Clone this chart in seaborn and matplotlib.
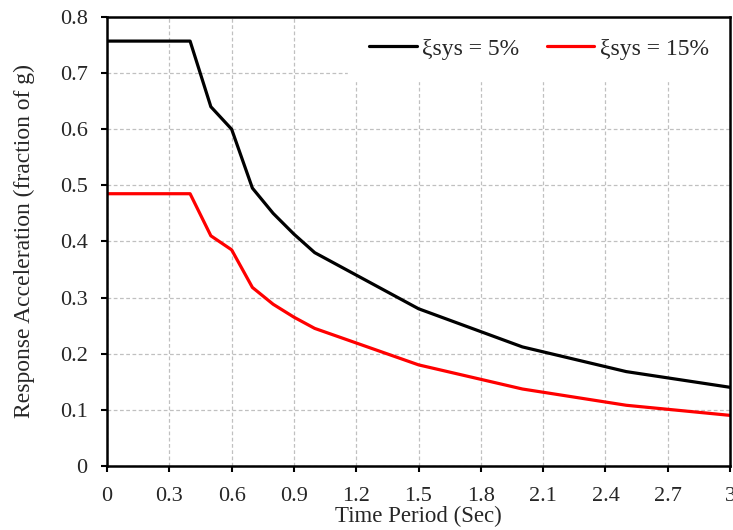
import numpy as np
import pandas as pd
import matplotlib
matplotlib.use("Agg")
import matplotlib.pyplot as plt
import seaborn as sns

### Dados do espectro de resposta
periodo = [0.0, 0.1, 0.2, 0.3, 0.4, 0.5, 0.6, 0.7, 0.8, 0.9, 1.0, 1.5, 2.0, 2.5, 3.0]
sa_5 = [0.757, 0.757, 0.757, 0.757, 0.757, 0.640, 0.600, 0.495, 0.450, 0.413, 0.380,
        0.280, 0.212, 0.168, 0.140]
sa_15 = [0.485, 0.485, 0.485, 0.485, 0.485, 0.410, 0.385, 0.318, 0.288, 0.265, 0.245,
         0.180, 0.137, 0.108, 0.090]
rotulos = ["ξsys = 5%", "ξsys = 15%"]

dados = pd.DataFrame({"Periodo": periodo * 2,
                      "Sa": sa_5 + sa_15,
                      "Amortecimento": [rotulos[0]] * len(periodo) + [rotulos[1]] * len(periodo)})

sns.set_style("white")
plt.rcParams["font.family"] = ["Liberation Serif", "DejaVu Serif"]

fig = plt.figure(figsize = (7.33, 5.30), dpi = 100)
ax = fig.add_axes([0.146, 0.121, 0.850, 0.847])
sns.lineplot(data = dados, x = "Periodo", y = "Sa", hue = "Amortecimento",
             palette = {rotulos[0]: "black", rotulos[1]: "#ff0000"},
             linewidth = 2.3, ax = ax, zorder = 2)

ax.set_xlim(0, 3)
ax.set_ylim(0, 0.8)
ax.set_xticks(np.arange(0, 3.01, 0.3))
ax.set_xticklabels(["0", "0.3", "0.6", "0.9", "1.2", "1.5", "1.8", "2.1", "2.4", "2.7", "3"])
ax.set_yticks(np.arange(0, 0.81, 0.1))
ax.set_yticklabels(["0", "0.1", "0.2", "0.3", "0.4", "0.5", "0.6", "0.7", "0.8"])
ax.grid(True, color = "#c0c0c0", linestyle = (0, (3, 2)), linewidth = 0.9)
for lado in ax.spines.values():
    lado.set_color("black")
    lado.set_linewidth(1.8)
    lado.set_zorder(3)
ax.tick_params(axis = "both", direction = "out", length = 4, width = 1.5,
               color = "black", labelsize = 16, bottom = True, left = True)
ax.tick_params(axis = "y", pad = 10)
ax.tick_params(axis = "x", pad = 11)
ax.set_xlabel("Time Period (Sec)", fontsize = 16.5, labelpad = 0)
ax.set_ylabel("Response Acceleration (fraction of g)", fontsize = 17, labelpad = 18)

leg = ax.legend(loc = "upper right", bbox_to_anchor = (1, 1), ncol = 2, fontsize = 17,
                frameon = True, fancybox = False, framealpha = 1, edgecolor = "white",
                facecolor = "white", borderaxespad = 0, handlelength = 2.0,
                handletextpad = 0.25, columnspacing = 1.15, borderpad = 0.9, title = None)
leg.set_zorder(2.5)

plt.savefig("out.png", dpi = 100)
